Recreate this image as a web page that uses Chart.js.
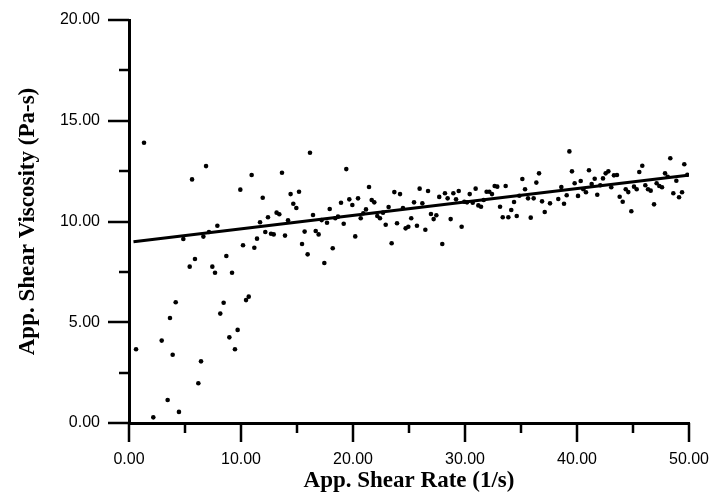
<!DOCTYPE html>
<html>
<head>
<meta charset="utf-8">
<script src="https://cdn.jsdelivr.net/npm/chart.js@4/dist/chart.umd.min.js"></script>
<style>
  html, body { margin: 0; padding: 0; background: #fff; }
  #chart { display: block; }
</style>
</head>
<body>
<canvas id="chart" width="714" height="500"></canvas>
<script>
// shear rate (1/s)
const shearRate = [
  0.63, 1.34, 2.17, 2.92, 3.45, 3.66, 3.90, 4.17, 4.46, 4.85,
  5.42, 5.63, 5.89, 6.19, 6.43, 6.64, 6.88, 7.14, 7.44, 7.68,
  7.89, 8.15, 8.45, 8.69, 8.96, 9.20, 9.46, 9.70, 9.94, 10.18,
  10.45, 10.69, 10.95, 11.19, 11.43, 11.70, 11.94, 12.17, 12.41, 12.68,
  12.92, 13.18, 13.42, 13.66, 13.93, 14.20, 14.43, 14.67, 14.94, 15.18,
  15.45, 15.68, 15.95, 16.16, 16.43, 16.67, 16.93, 17.20, 17.44, 17.68,
  17.92, 18.19, 18.42, 18.66, 18.93, 19.17, 19.40, 19.67, 19.94, 20.20,
  20.45, 20.69, 20.92, 21.16, 21.43, 21.67, 21.90, 22.17, 22.41, 22.68,
  22.92, 23.18, 23.45, 23.69, 23.93, 24.20, 24.46, 24.70, 24.94, 25.20,
  25.45, 25.71, 25.95, 26.19, 26.46, 26.70, 26.96, 27.20, 27.44, 27.70,
  27.97, 28.21, 28.45, 28.72, 28.96, 29.20, 29.44, 29.70, 29.94, 30.18,
  30.42, 30.69, 30.95, 31.19, 31.43, 31.67, 31.93, 32.17, 32.41, 32.65,
  32.88, 33.13, 33.37, 33.63, 33.87, 34.13, 34.38, 34.62, 34.85, 35.12,
  35.36, 35.63, 35.87, 36.13, 36.37, 36.61, 36.88, 37.12, 37.59, 38.33,
  38.60, 38.84, 39.08, 39.32, 39.55, 39.79, 40.09, 40.33, 40.56, 40.80,
  41.07, 41.31, 41.58, 41.81, 42.08, 42.32, 42.56, 42.80, 43.06, 43.30,
  43.57, 43.81, 44.08, 44.35, 44.58, 44.85, 45.09, 45.33, 45.56, 45.83,
  46.10, 46.34, 46.58, 46.88, 47.11, 47.35, 47.59, 47.86, 48.10, 48.33,
  48.60, 48.87, 49.11, 49.38, 49.58, 49.85
];

// apparent shear viscosity (Pa-s)
const viscosity = [
  3.66, 13.91, 0.28, 4.09, 1.14, 5.21, 3.39, 5.99, 0.55, 9.13,
  7.76, 12.09, 8.14, 1.97, 3.06, 9.25, 12.75, 9.48, 7.76, 7.46,
  9.79, 5.43, 5.97, 8.29, 4.25, 7.46, 3.66, 4.62, 11.58, 8.82,
  6.10, 6.27, 12.31, 8.70, 9.15, 9.96, 11.18, 9.48, 10.21, 9.39,
  9.36, 10.44, 10.36, 12.42, 9.30, 10.06, 11.36, 10.88, 10.67, 11.48,
  8.88, 9.50, 8.37, 13.41, 10.32, 9.53, 9.36, 10.07, 7.94, 9.94,
  10.62, 8.67, 10.16, 10.24, 10.93, 9.89, 12.60, 11.10, 10.82, 9.26,
  11.15, 10.16, 10.41, 10.60, 11.71, 11.07, 10.95, 10.27, 10.16, 10.44,
  9.84, 10.72, 8.92, 11.46, 9.91, 11.36, 10.67, 9.66, 9.74, 10.16,
  10.95, 9.79, 11.63, 10.90, 9.59, 11.51, 10.37, 10.12, 10.31, 11.22,
  8.88, 11.40, 11.15, 10.12, 11.40, 11.10, 11.51, 9.74, 10.98, 10.95,
  11.36, 10.93, 11.63, 10.80, 10.73, 11.07, 11.48, 11.48, 11.36, 11.76,
  11.73, 10.73, 10.21, 11.76, 10.21, 10.57, 10.97, 10.27, 11.28, 12.11,
  11.60, 11.15, 10.19, 11.15, 11.93, 12.39, 11.00, 10.47, 10.90, 11.12,
  11.71, 10.88, 11.30, 13.48, 12.49, 11.90, 11.27, 12.01, 11.60, 11.45,
  12.54, 11.86, 12.12, 11.33, 11.80, 12.14, 12.39, 12.49, 11.70, 12.29,
  12.31, 11.23, 10.98, 11.60, 11.46, 10.51, 11.73, 11.60, 12.46, 12.77,
  11.80, 11.60, 11.53, 10.85, 11.90, 11.76, 11.70, 12.39, 12.22, 13.14,
  11.40, 12.02, 11.20, 11.45, 12.84, 12.32
];

// linear fit drawn through the points
const fitRate = [0.4, 49.9];
const fitViscosity = [9.0, 12.3];

const xMajorTicks = [0, 10, 20, 30, 40, 50];
const xMinorTicks = [5, 15, 25, 35, 45];
const yMajorTicks = [0, 5, 10, 15, 20];
const yMinorTicks = [2.5, 7.5, 12.5, 17.5];

const tickFont = { family: '"Liberation Sans", Arial, sans-serif', size: 16 };
const titleFont = { family: '"Liberation Serif", "Times New Roman", serif', size: 23, weight: 'bold' };

// outside tick marks, long at labels and short in between
const tickMarks = {
  id: 'tickMarks',
  afterDraw(chart) {
    const ctx = chart.ctx;
    const x = chart.scales.x;
    const y = chart.scales.y;
    const base = y.getPixelForValue(0);
    const left = x.getPixelForValue(0);
    ctx.save();
    ctx.strokeStyle = '#000';
    ctx.lineWidth = 2.5;
    ctx.beginPath();
    xMajorTicks.forEach(v => {
      const px = Math.round(x.getPixelForValue(v));
      ctx.moveTo(px, base);
      ctx.lineTo(px, base + 19);
    });
    xMinorTicks.forEach(v => {
      const px = Math.round(x.getPixelForValue(v));
      ctx.moveTo(px, base);
      ctx.lineTo(px, base + 10);
    });
    yMajorTicks.forEach(v => {
      const py = Math.round(y.getPixelForValue(v));
      ctx.moveTo(left, py);
      ctx.lineTo(left - 21, py);
    });
    yMinorTicks.forEach(v => {
      const py = Math.round(y.getPixelForValue(v));
      ctx.moveTo(left, py);
      ctx.lineTo(left - 10, py);
    });
    ctx.stroke();
    ctx.restore();
  }
};

const points = shearRate.map((v, i) => ({ x: v, y: viscosity[i] }));
const fitLine = fitRate.map((v, i) => ({ x: v, y: fitViscosity[i] }));

new Chart(document.getElementById('chart'), {
  type: 'scatter',
  data: {
    datasets: [
      {
        label: 'Measured',
        data: points,
        pointRadius: 2.3,
        pointBackgroundColor: '#000',
        pointBorderWidth: 0,
        showLine: false
      },
      {
        label: 'Fit',
        type: 'line',
        data: fitLine,
        borderColor: '#000',
        borderWidth: 3,
        pointRadius: 0,
        fill: false,
        tension: 0
      }
    ]
  },
  options: {
    responsive: false,
    animation: false,
    layout: { padding: { top: 20, right: 25, left: 0, bottom: 0 } },
    plugins: {
      legend: { display: false },
      tooltip: { enabled: false }
    },
    scales: {
      x: {
        type: 'linear',
        min: 0,
        max: 50,
        grid: { display: false, drawTicks: false },
        border: { display: true, color: '#000', width: 3 },
        ticks: {
          stepSize: 10,
          color: '#000',
          font: tickFont,
          padding: 27,
          maxRotation: 0,
          callback: v => v.toFixed(2)
        },
        title: {
          display: true,
          text: 'App. Shear Rate (1/s)',
          color: '#000',
          font: titleFont,
          padding: { top: 0, bottom: 5 }
        },
        afterFit: s => {
          s.height = 77;
          s.paddingLeft = 0;
          s.paddingRight = 0;
        }
      },
      y: {
        type: 'linear',
        min: 0,
        max: 20,
        grid: { display: false, drawTicks: false },
        border: { display: true, color: '#000', width: 3 },
        ticks: {
          stepSize: 5,
          color: '#000',
          font: tickFont,
          padding: 29,
          callback: v => v.toFixed(2)
        },
        title: {
          display: true,
          text: 'App. Shear Viscosity (Pa-s)',
          color: '#000',
          font: titleFont,
          padding: { top: 14, bottom: 0 }
        },
        afterFit: s => {
          s.width = 129;
          s.paddingTop = 0;
          s.paddingBottom = 0;
        }
      }
    }
  },
  plugins: [tickMarks]
});
</script>
</body>
</html>
